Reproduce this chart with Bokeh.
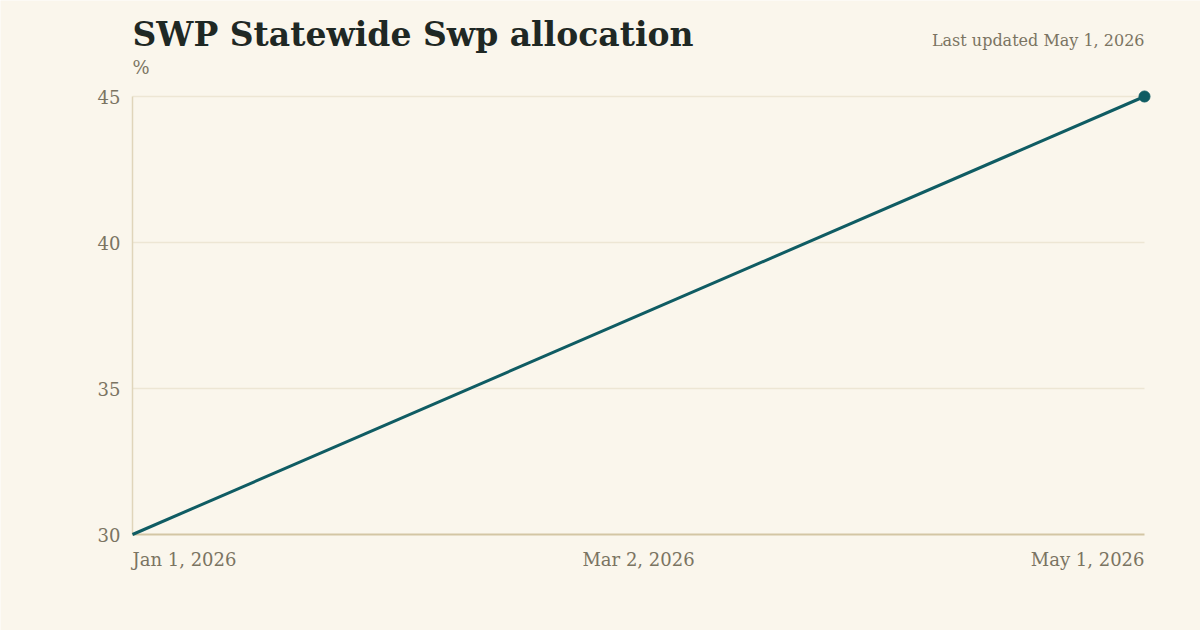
from datetime import datetime, timedelta
from bokeh.plotting import figure
from bokeh.models import Range1d, Label, ColumnDataSource
from bokeh.core.properties import value
from bokeh.embed import file_html
from bokeh.resources import INLINE

# data
dates = [datetime(2026, 1, 1), datetime(2026, 5, 1)]
values = [30, 45]
y_ticks = [30, 35, 40, 45]
y_tick_labels = ["30", "35", "40", "45"]
x_tick_dates = [datetime(2026, 1, 1), datetime(2026, 3, 2), datetime(2026, 5, 1)]
x_tick_labels = ["Jan 1, 2026", "Mar 2, 2026", "May 1, 2026"]
title = "SWP Statewide Swp allocation"
unit = "%"
updated = "Last updated May 1, 2026"

FONT = "Georgia, 'DejaVu Serif', serif"
BG = "#faf6ec"
MUTED = "#7a7462"
LINE = "#0f5c63"

W, H = 1200, 630
# plot area in pixels: data spans x 132..1144, y 96..534 (from top)
L, R, T, B = 132, 1144, 96, 534
span_days = (dates[-1] - dates[0]).total_seconds() / 86400.0
ppd = (R - L) / span_days
ymin, ymax = y_ticks[0], y_ticks[-1]
ppu = (B - T) / (ymax - ymin)

# frame covers the whole canvas, ranges padded so data lands on the plot area
x_range = Range1d(dates[0] - timedelta(days=L / ppd), dates[-1] + timedelta(days=(W - R) / ppd))
y_range = Range1d(ymin - (H - B) / ppu, ymax + T / ppu)

p = figure(width=W, height=H, x_axis_type="datetime",
           output_backend="svg", toolbar_location=None,
           x_range=x_range, y_range=y_range,
           min_border=0)
p.background_fill_color = BG
p.border_fill_color = BG
p.outline_line_color = None
p.xgrid.grid_line_color = None
p.ygrid.grid_line_color = None
p.xaxis.visible = False
p.yaxis.visible = False

# gridlines (35, 40, 45)
n = len(y_ticks) - 1
p.segment(x0=[dates[0]] * n, y0=y_ticks[1:], x1=[dates[-1]] * n, y1=y_ticks[1:],
          line_color="#ede6d4", line_width=1.5)
# left axis line
p.segment(x0=[dates[0]], y0=[ymin], x1=[dates[0]], y1=[ymax], line_color="#e0d5ba", line_width=1.5)
# bottom axis line
p.segment(x0=[dates[0]], y0=[ymin], x1=[dates[-1]], y1=[ymin], line_color="#d3c6a4", line_width=2)

src = ColumnDataSource(dict(x=dates, y=values))
p.line("x", "y", source=src, line_color=LINE, line_width=3)
p.scatter([dates[-1]], [values[-1]], size=11, color=LINE)

# y tick labels
p.text(x=[dates[0]] * len(y_ticks), y=y_ticks, text=y_tick_labels, x_offset=-12,
       text_font=value(FONT), text_font_size="18px", text_color=MUTED,
       text_align="right", text_baseline="middle")

# x tick labels
aligns = ["left", "center", "right"]
for d, t, a in zip(x_tick_dates, x_tick_labels, aligns):
    p.add_layout(Label(x=d, y=ymin, x_units="data", y_units="data", y_offset=-25,
                       text=t, text_font=FONT, text_font_size="18px",
                       text_color=MUTED, text_align=a, text_baseline="middle"))

# header texts (screen units: from the bottom-left of the canvas)
p.add_layout(Label(x=L, y=H - 34, x_units="screen", y_units="screen", text=title,
                   text_font=FONT, text_font_size="33px", text_font_style="bold",
                   text_color="#1f2824", text_baseline="alphabetic"))
p.add_layout(Label(x=L, y=H - 67, x_units="screen", y_units="screen", text=unit,
                   text_font=FONT, text_font_size="18px",
                   text_color=MUTED, text_baseline="middle"))
p.add_layout(Label(x=R, y=H - 40, x_units="screen", y_units="screen", text=updated,
                   text_font=FONT, text_font_size="16px",
                   text_color=MUTED, text_align="right", text_baseline="middle"))

open("out.html", "w").write(file_html(p, INLINE))
